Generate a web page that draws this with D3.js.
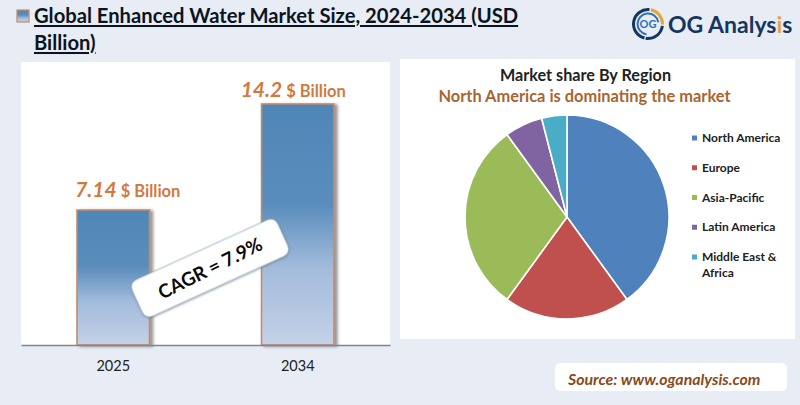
<!DOCTYPE html>
<html>
<head>
<meta charset="utf-8">
<style>
html, body { margin: 0; padding: 0; background: #e7ecf5; }
svg { display: block; }
text { font-family: Lato, "Open Sans", Arial, sans-serif; }
</style>
</head>
<body>
<svg width="800" height="405"></svg>
<script src="https://d3js.org/d3.v7.min.js"></script>
<script>
var years = ["2025", "2034"];
var marketValues = [7.14, 14.2];
var valueLabels = ["7.14", "14.2"];
var regions = ["North America", "Europe", "Asia-Pacific", "Latin America", "Middle East & Africa"];
var regionShares = [40, 20, 30, 6, 4];
var regionColors = ["#4f81bd", "#c0504d", "#9bbb59", "#8064a2", "#4bacc6"];

var svg = d3.select("svg");
var orange = "#d2793f";

var defs = svg.append("defs");
var grad = defs.append("linearGradient").attr("id", "barFill")
    .attr("x1", 0).attr("y1", 0).attr("x2", 0).attr("y2", 1);
grad.append("stop").attr("offset", "0%").attr("stop-color", "#4f86b7");
grad.append("stop").attr("offset", "42%").attr("stop-color", "#5a8dbc");
grad.append("stop").attr("offset", "68%").attr("stop-color", "#a3bbdb");
grad.append("stop").attr("offset", "100%").attr("stop-color", "#c3d2e7");

var shadow = defs.append("filter").attr("id", "barShadow")
    .attr("x", "-10%").attr("y", "-5%").attr("width", "125%").attr("height", "110%");
shadow.append("feDropShadow").attr("dx", 3).attr("dy", 1).attr("stdDeviation", 1.5)
    .attr("flood-color", "#555").attr("flood-opacity", 0.6);
var boxShadow = defs.append("filter").attr("id", "boxShadow")
    .attr("x", "-10%").attr("y", "-20%").attr("width", "120%").attr("height", "140%");
boxShadow.append("feDropShadow").attr("dx", 0).attr("dy", 1).attr("stdDeviation", 1)
    .attr("flood-color", "#567").attr("flood-opacity", 0.6);

// title
svg.append("rect").attr("x", 17).attr("y", 10).attr("width", 12).attr("height", 12)
    .attr("fill", "url(#barFill)").attr("stroke", "#c98a63").attr("stroke-width", 1.2);
svg.append("text").attr("x", 34).attr("y", 23)
    .attr("font-size", 20.2).attr("font-weight", 700).attr("fill", "#0c1420")
    .style("text-decoration", "underline")
    .text("Global Enhanced Water Market Size, 2024-2034 (USD");
svg.append("text").attr("x", 34).attr("y", 50)
    .attr("font-size", 20.2).attr("font-weight", 700).attr("fill", "#0c1420")
    .style("text-decoration", "underline")
    .text("Billion)");

// logo
var logo = svg.append("g").attr("transform", "translate(648,24)");
var logoArc = d3.arc();
[[-2.9, 0.1, 13, 16, "#14365f"], [0.2, 1.6, 13, 16, "#e6a53c"], [1.7, 3.3, 13, 16, "#14365f"], [-3.0, 1.4, 9.5, 11.5, "#2f6fb5"]]
    .forEach(function (a) {
        logo.append("path")
            .attr("d", logoArc({startAngle: a[0], endAngle: a[1], innerRadius: a[2], outerRadius: a[3]}))
            .attr("fill", a[4]);
    });
logo.append("text").attr("text-anchor", "middle").attr("y", 4).attr("font-size", 11)
    .attr("font-weight", 700).attr("fill", "#2f6fb5").text("OG");
var logoText = svg.append("text").attr("x", 668).attr("y", 33)
    .attr("font-size", 23).attr("font-weight", 700).attr("fill", "#14365f");
logoText.append("tspan").text("OG Analys");
logoText.append("tspan").attr("fill", "#e6a53c").text("i");
logoText.append("tspan").text("s");

// bar panel
svg.append("rect").attr("x", 21).attr("y", 62).attr("width", 369).attr("height", 283).attr("fill", "#fff");

var x = d3.scaleBand().domain(years).range([21, 390]).paddingInner(0.607).paddingOuter(0.3035);
// bars in the picture do not start at zero, so the baseline sits below it
var y = d3.scaleLinear().domain([-1.85, 14.2]).range([345, 104]);

svg.selectAll(".bar")
    .data(marketValues)
    .enter().append("rect")
    .attr("class", "bar")
    .attr("x", function (d, i) { return x(years[i]); })
    .attr("y", function (d) { return y(d); })
    .attr("width", x.bandwidth())
    .attr("height", function (d) { return y.range()[0] - y(d); })
    .attr("fill", "url(#barFill)")
    .attr("stroke", "#c08c70")
    .attr("stroke-width", 1.6)
    .attr("filter", "url(#barShadow)");

var labels = svg.selectAll(".value")
    .data(valueLabels)
    .enter().append("text")
    .attr("class", "value")
    .attr("x", function (d, i) { return x(years[i]) + x.bandwidth() / 2 + (i ? -4.5 : 14.5); })
    .attr("y", function (d, i) { return y(marketValues[i]) - (i ? 7 : 13); })
    .attr("text-anchor", "middle")
    .attr("fill", orange);
labels.append("tspan").attr("font-size", 21).attr("font-weight", 700).attr("font-style", "italic")
    .text(function (d) { return d; });
labels.append("tspan").attr("font-size", 16.5).attr("font-weight", 700).attr("dx", 4).text("$ Billion");

var axis = svg.append("g").attr("transform", "translate(0,345)")
    .call(d3.axisBottom(x).tickSize(0).tickPadding(16));
axis.select(".domain").attr("stroke", "#7f8590").attr("stroke-width", 1.6);
axis.selectAll("text").attr("font-size", 14.5).attr("fill", "#222")
    .style("font-family", "Lato, Arial, sans-serif");

// CAGR tag
var tag = svg.append("g").attr("transform", "translate(210,268) rotate(-24.5)");
tag.append("rect").attr("x", -80).attr("y", -20).attr("width", 160).attr("height", 40).attr("rx", 8)
    .attr("fill", "#fff").attr("stroke", "#8fa6b8").attr("stroke-width", 0.7)
    .attr("filter", "url(#boxShadow)");
tag.append("text").attr("text-anchor", "middle").attr("y", 7).attr("font-size", 19)
    .attr("transform", "rotate(-2)")
    .attr("font-weight", 700).attr("fill", "#0a0a0a").text("CAGR = 7.9%");

// pie panel
svg.append("rect").attr("x", 400).attr("y", 59).attr("width", 395).attr("height", 280).attr("fill", "#fff");
svg.append("text").attr("x", 585.5).attr("y", 81).attr("text-anchor", "middle")
    .attr("font-size", 16.2).attr("font-weight", 700).attr("fill", "#222")
    .text("Market share By Region");
svg.append("text").attr("x", 584.5).attr("y", 102).attr("text-anchor", "middle")
    .attr("font-size", 16.4).attr("font-weight", 700).attr("fill", "#a8652f")
    .text("North America is dominating the market");

var pie = d3.pie().sort(null);
var arc = d3.arc().innerRadius(0).outerRadius(102);
svg.append("g").attr("transform", "translate(567,217)")
    .selectAll("path")
    .data(pie(regionShares))
    .enter().append("path")
    .attr("d", arc)
    .attr("fill", function (d, i) { return regionColors[i]; })
    .attr("stroke", "#fff")
    .attr("stroke-width", 1.6);

// legend
var legendY = d3.scalePoint().domain(regions).range([138, 257]);
var legend = svg.selectAll(".legend")
    .data(regions)
    .enter().append("g")
    .attr("class", "legend")
    .attr("transform", function (d) { return "translate(692," + legendY(d) + ")"; });
legend.append("rect").attr("x", 0).attr("y", -2.5).attr("width", 5).attr("height", 5)
    .attr("fill", function (d, i) { return regionColors[i]; });
legend.append("text").attr("x", 10).attr("y", 4).attr("font-size", 12)
    .attr("font-weight", 700).attr("fill", "#222")
    .each(function (d) {
        var t = d3.select(this);
        if (d === "Middle East & Africa") {
            t.append("tspan").attr("x", 10).text("Middle East &");
            t.append("tspan").attr("x", 10).attr("dy", 16).text("Africa");
        } else {
            t.text(d);
        }
    });

// source box
svg.append("rect").attr("x", 555).attr("y", 363).attr("width", 232).attr("height", 28).attr("rx", 5).attr("fill", "#fff");
svg.append("text").attr("x", 568).attr("y", 385).attr("font-size", 15.9)
    .attr("font-weight", 700).attr("font-style", "italic").attr("fill", "#8a4a1c")
    .text("Source: www.oganalysis.com");
</script>
</body>
</html>
